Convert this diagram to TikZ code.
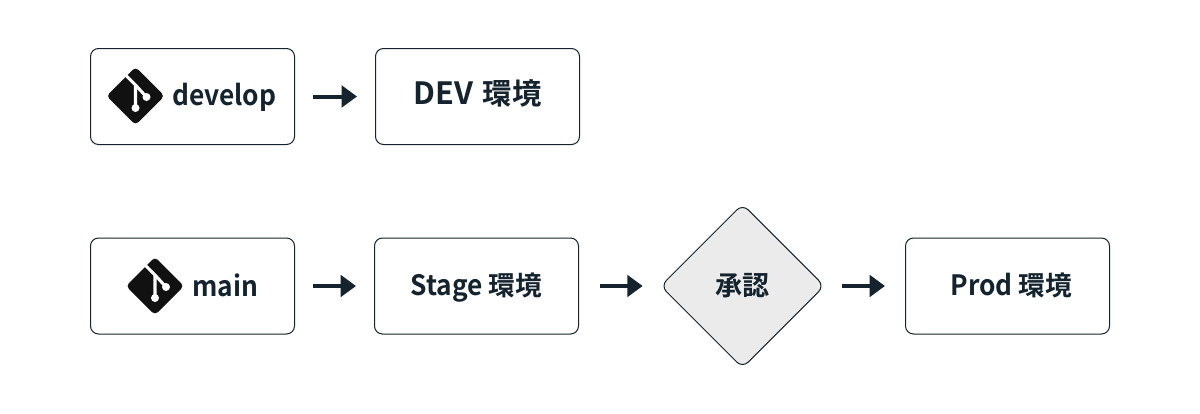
\documentclass[tikz,border=0pt]{standalone}
\usepackage{fontspec}
\setmainfont{Noto Sans CJK JP Bold}
\newfontfamily\latn{Noto Sans CJK JP Bold}[FakeStretch=0.94]
\usetikzlibrary{shapes.geometric,arrows.meta}
\definecolor{ink}{HTML}{14232D}
\definecolor{logoink}{HTML}{111111}
\definecolor{shade}{HTML}{EBEBEB}
\newcommand{\sz}[1]{\fontsize{#1pt}{24pt}\selectfont}
\tikzset{
  x=0.75pt,y=-0.75pt,
  box/.style={draw=ink,line width=0.75pt,rounded corners=6pt,minimum width=153pt,minimum height=72pt,inner sep=0pt,text=ink,text height=16pt,text depth=2.5pt,font=\sz{20}},
  gate/.style={draw=ink,fill=shade,line width=0.75pt,diamond,aspect=1,rounded corners=6pt,minimum width=123pt,minimum height=123pt,inner sep=0pt,text=ink,font=\sz{20.3}},
  flow/.style={draw=ink,line width=3pt,-{Triangle[length=11.5pt,width=16pt]},shorten >=13.5pt,shorten <=13.5pt},
  label/.style={inner sep=0pt,text=ink,font=\latn\sz{21}},
  gitlogo/.pic={
    \fill[logoink,rounded corners=3pt] (-29,0)--(0,-29)--(29,0)--(0,29)--cycle;
    \draw[white,line width=2.3pt,line cap=round] (-9,-20)--(0,-11)--(0,12) (0,-11)--(11,1);
    \fill[white] (0,12) circle (4) (11,1) circle (4);
  }
}
\begin{document}
\begin{tikzpicture}
\useasboundingbox[fill=white] (0,0) rectangle (1200,414);
\node[box] (dev) at (192.5,96.5) {};
\node[box,text depth=3.4pt] (devenv) at (477.5,96.5) {\sz{23}DEV\hspace{7pt}\sz{22}環境};
\node[box] (main) at (192.5,286) {};
\node[box] (stage) at (476.5,286) {{\latn\sz{21}Stage}\hspace{4.5pt}環境};
\node[gate] (ok) at (742.5,286) {承認};
\node[box] (prod) at (1007.5,286) {\hspace*{6pt}{\latn\sz{21}Prod}\hspace{4.5pt}環境};
\pic at (135.5,96) {gitlogo};
\pic at (155,286) {gitlogo};
\node[label,anchor=base west] (devtext) at (172,105) {develop};
\node[label,anchor=base west] (maintext) at (192,296) {main};
\draw[flow] (dev) -- (devenv);
\draw[flow] (main) -- (stage);
\draw[flow,shorten <=16pt,shorten >=13pt] (stage) -- (ok);
\draw[flow,shorten <=13pt,shorten >=15pt] (ok) -- (prod);
\end{tikzpicture}
\end{document}
